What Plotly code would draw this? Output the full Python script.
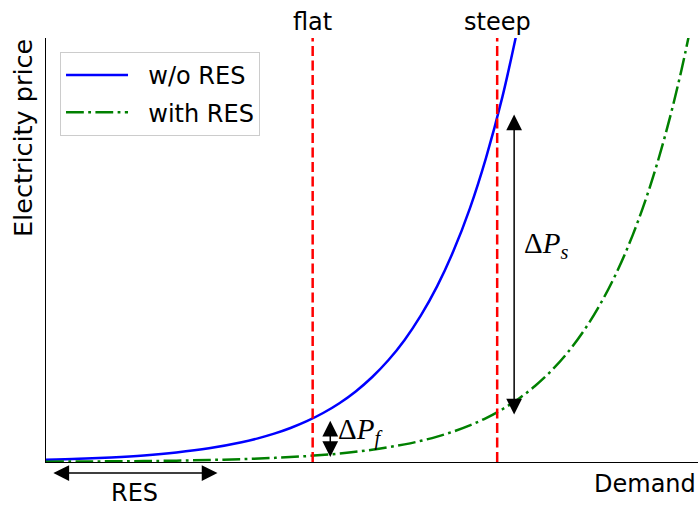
import plotly.graph_objects as go

# ---- data (axis units 0..10 on both axes) ----
demand_wo = [0.0, 0.5, 1.0, 1.5, 2.0, 2.5, 3.0, 3.25, 3.5, 3.75, 4.0, 4.25, 4.5, 4.75,
             5.0, 5.25, 5.5, 5.75, 6.0, 6.25, 6.5, 6.75, 7.0, 7.25]
price_wo = [0.052, 0.075, 0.108, 0.155, 0.224, 0.322, 0.464, 0.557, 0.668, 0.802, 0.963,
            1.156, 1.387, 1.665, 1.999, 2.399, 2.879, 3.457, 4.148, 4.98, 5.977, 7.18,
            8.611, 10.34]

demand_with = [0.0, 0.5, 1.0, 1.5, 2.0, 2.5, 3.0, 3.5, 4.0, 4.5, 5.0, 5.5, 5.75, 6.0,
               6.25, 6.5, 6.75, 7.0, 7.25, 7.5, 7.75, 8.0, 8.25, 8.5, 8.75, 9.0, 9.25,
               9.5, 9.75, 10.0]
price_with = [0.0075, 0.011, 0.016, 0.022, 0.032, 0.047, 0.067, 0.097, 0.139, 0.200,
              0.289, 0.416, 0.499, 0.599, 0.719, 0.863, 1.036, 1.244, 1.493, 1.792,
              2.150, 2.581, 3.098, 3.72, 4.465, 5.357, 6.43, 7.72, 9.27, 11.12]

flat_x = 4.09
steep_x = 6.92
res_width = [0.09, 2.63]
dpf = {"x": 4.36, "y": [1.01, 0.12]}
dps = {"x": 7.18, "y": [8.23, 1.12]}

FONT = "DejaVu Sans"
MATH = "Liberation Serif"
NB = "\u00a0"

fig = go.Figure()
fig.add_trace(go.Scatter(x=demand_wo, y=price_wo, mode="lines", name=NB * 2 + "w/o RES",
                         line=dict(color="#0000ff", width=2.5, shape="spline", smoothing=1.0,
                                   simplify=False),
                         legendgroup="a"))
fig.add_trace(go.Scatter(x=demand_with, y=price_with, mode="lines", name=NB * 2 + "with RES",
                         line=dict(color="#008000", width=2.5, shape="spline", smoothing=1.0,
                                   simplify=False, dash="17.8px,4.4px,2.8px,4.4px"),
                         legendgroup="b"))

for xv in (flat_x, steep_x):
    fig.add_shape(type="line", xref="x", yref="paper", x0=xv, x1=xv, y0=0, y1=1,
                  line=dict(color="#ff0000", width=2.5, dash="10px,4.5px"))

ann = []
ann.append(dict(x=flat_x, y=1, xref="x", yref="paper", text="flat", showarrow=False,
                yanchor="bottom", yshift=0, font=dict(family=FONT, size=24, color="black")))
ann.append(dict(x=steep_x, y=1, xref="x", yref="paper", text="steep", showarrow=False,
                yanchor="bottom", yshift=0, font=dict(family=FONT, size=24, color="black")))
ann.append(dict(x=0, y=1, xref="paper", yref="paper", text="Electricity price", showarrow=False,
                textangle=-90, xanchor="right", yanchor="top", xshift=-6, yshift=1,
                font=dict(family=FONT, size=25.5, color="black")))
ann.append(dict(x=1, y=0, xref="paper", yref="paper", text="Demand", showarrow=False,
                xanchor="right", yanchor="top", yshift=-6, xshift=0,
                font=dict(family=FONT, size=24, color="black")))
# RES arrow
ann.append(dict(x=res_width[1], y=-0.026, xref="x", yref="paper", ax=res_width[0], ay=0,
                axref="x", ayref="pixel", text="", showarrow=True, arrowside="end+start",
                arrowhead=2, arrowsize=2.1, arrowwidth=1.5, arrowcolor="black"))
ann.append(dict(x=(res_width[0] + res_width[1]) / 2, y=0, xref="x", yref="paper", text="RES",
                showarrow=False, yanchor="middle", yshift=-31, height=24, valign="middle",
                font=dict(family=FONT, size=24, color="black")))
# Delta P arrows
for d in (dpf, dps):
    ann.append(dict(x=d["x"], y=d["y"][1], xref="x", yref="y", ax=d["x"], ay=d["y"][0],
                    axref="x", ayref="y", text="", showarrow=True, arrowside="end+start",
                    arrowhead=2, arrowsize=2.1, arrowwidth=1.5, arrowcolor="black"))
ann.append(dict(x=4.45, y=0.72, xref="x", yref="y", xanchor="left", yanchor="middle",
                text="Δ<i>P</i><sub><i>f</i></sub>", showarrow=False,
                font=dict(family=MATH, size=29, color="black")))
ann.append(dict(x=7.3, y=5.12, xref="x", yref="y", xanchor="left", yanchor="middle",
                text="Δ<i>P</i><sub><i>s</i></sub>", showarrow=False,
                font=dict(family=MATH, size=29, color="black")))

fig.update_layout(
    width=700, height=506,
    margin=dict(l=46, r=2, t=38, b=44),
    paper_bgcolor="white", plot_bgcolor="white",
    annotations=ann,
    showlegend=True,
    legend=dict(x=0.0215, y=0.967, xanchor="left", yanchor="top",
                bgcolor="white", bordercolor="#cccccc", borderwidth=1,
                font=dict(family=FONT, size=24, color="black"),
                itemwidth=62, tracegroupgap=3, traceorder="grouped"),
    font=dict(family=FONT),
)
fig.update_xaxes(range=[0, 10], showgrid=False, zeroline=False, showticklabels=False,
                 ticks="", showline=True, linecolor="black", linewidth=1.3, mirror=False)
fig.update_yaxes(range=[0, 10], showgrid=False, zeroline=False, showticklabels=False,
                 ticks="", showline=True, linecolor="black", linewidth=1.3, mirror=False)

fig.write_html("out.html", config={"displayModeBar": False},
               post_script="document.body.style.margin='0px';")
